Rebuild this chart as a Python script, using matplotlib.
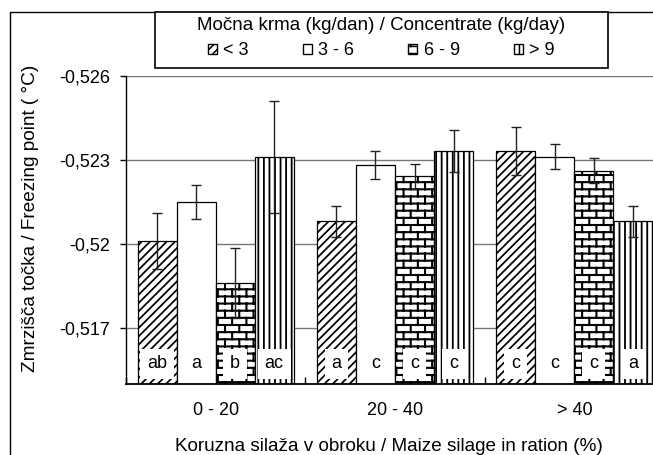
import warnings
import numpy as np
import matplotlib
matplotlib.use('Agg')
import matplotlib.pyplot as plt
import matplotlib.hatch as mhatch
import matplotlib.transforms as mtrans
from matplotlib.path import Path
from matplotlib.patches import Rectangle, Patch

warnings.filterwarnings('ignore')

# podatki
groups = ['0 - 20', '20 - 40', '> 40']
series = ['< 3', '3 - 6', '6 - 9', '> 9']
vals_lt3 = [-0.5201, -0.5208, -0.5233]
vals_3_6 = [-0.5215, -0.5228, -0.5231]
vals_6_9 = [-0.5186, -0.5224, -0.5226]
vals_gt9 = [-0.5231, -0.5233, -0.5208]
err_lt3 = [0.0010, 0.00055, 0.00085]
err_3_6 = [0.0006, 0.0005, 0.00045]
err_6_9 = [0.00125, 0.00045, 0.00045]
err_gt9 = [0.0020, 0.00075, 0.00055]
letters_lt3 = ['ab', 'a', 'c']
letters_3_6 = ['a', 'c', 'c']
letters_6_9 = ['b', 'c', 'c']
letters_gt9 = ['ac', 'c', 'a']
yticks = [-0.526, -0.523, -0.52, -0.517]
ytick_labels = ['-0,526', '-0,523', '-0,52', '-0,517']
base = -0.515


# vzorec opeke (brick) za 6 - 9
class BrickHatch(mhatch.HatchPatternBase):
    def __init__(self, hatch, density):
        self.segs = []
        if 'b' in hatch:
            nr, nc = 14, 7
            h, w = 1.0 / nr, 1.0 / nc
            for r in range(nr):
                y = (r + 0.5) * h
                self.segs.append(((0, y), (1, y)))
                for c in range(nc):
                    x = (c + 0.25 + 0.5 * (r % 2)) * w
                    top = y + h
                    if top <= 1:
                        self.segs.append(((x, y), (x, top)))
                    else:
                        self.segs.append(((x, y), (x, 1)))
                        self.segs.append(((x, 0), (x, top - 1)))
        self.num_vertices = 2 * len(self.segs)

    def set_vertices_and_codes(self, vertices, codes):
        vertices[:] = np.array(self.segs, dtype=float).reshape(-1, 2)
        codes[0::2] = Path.MOVETO
        codes[1::2] = Path.LINETO


mhatch._hatch_types.append(BrickHatch)

plt.rcParams['font.family'] = ['Liberation Sans', 'DejaVu Sans']
plt.rcParams['hatch.linewidth'] = 1.1

fig = plt.figure(figsize=(6.53, 4.55), dpi=100)
ax = fig.add_axes([126 / 653, 1 - 384 / 455, 538 / 653, 308.5 / 455])

vals = [vals_lt3, vals_3_6, vals_6_9, vals_gt9]
errs = [err_lt3, err_3_6, err_6_9, err_gt9]
letters = [letters_lt3, letters_3_6, letters_6_9, letters_gt9]
hatches = ['////', None, 'b', '|||']
hatch_lw = [1.25, 1.0, 1.5, 1.3]

x = np.arange(len(groups))
w = 0.2175
trans = mtrans.blended_transform_factory(ax.transData, ax.transAxes)
for i in range(4):
    xi = x + (i - 1.5) * w
    v = np.array(vals[i])
    bars = ax.bar(xi, v - base, bottom=base, width=w, color='white',
                  edgecolor='black', linewidth=0.9, hatch=hatches[i], zorder=2)
    for b in bars:
        if hasattr(b, 'set_hatch_linewidth'):
            b.set_hatch_linewidth(hatch_lw[i])
    ax.errorbar(xi, v, yerr=errs[i], fmt='none', ecolor='#222222',
                elinewidth=1, capsize=3.6, capthick=1, zorder=4)
    for xx, t in zip(xi, letters[i]):
        ax.text(xx, 0.065, t, transform=trans, ha='center', va='center',
                fontsize=13, zorder=5,
                bbox=dict(boxstyle='square,pad=0.38', fc='white', ec='none'))

ax.set_ylim(base, -0.526)
ax.set_xlim(-0.5, 2.5)
ax.set_yticks(yticks)
ax.set_yticklabels(ytick_labels)
ax.set_xticks(x)
ax.set_xticklabels(groups)
ax.set_xticks([-0.5, 0.5, 1.5, 2.5], minor=True)
ax.tick_params(axis='x', which='major', length=0, pad=13, labelsize=13)
ax.tick_params(axis='x', which='minor', direction='in', length=5, width=1)
ax.tick_params(axis='y', direction='out', length=4.3, width=1, pad=7, labelsize=13)
ax.yaxis.grid(True, color='#777777', linewidth=1)
ax.set_axisbelow(True)
for s in ['top', 'right']:
    ax.spines[s].set_visible(False)
ax.spines['left'].set_linewidth(1)
ax.spines['bottom'].set_linewidth(1.3)

ax.set_ylabel('Zmrzišča točka / Freezing point ( °C)', fontsize=13.7, va='center')
ax.yaxis.set_label_coords(-0.178, 0.538)
ax.set_xlabel('Koruzna silaža v obroku / Maize silage in ration (%)', fontsize=13.6, va='center')
ax.xaxis.set_label_coords(0.489, -0.201)

# okvir slike in legende
fig.patches.append(Rectangle((10 / 653, -0.1), 1.2, 1 - 12 / 455 + 0.1,
                             transform=fig.transFigure, fill=False,
                             edgecolor='black', linewidth=1))
fig.patches.append(Rectangle((155 / 653, 1 - 68 / 455), 453 / 653, 56 / 455,
                             transform=fig.transFigure, facecolor='white',
                             edgecolor='black', linewidth=1.2, zorder=3))

handles = [Patch(facecolor='white', edgecolor='black', hatch=h) for h in hatches]
leg = fig.legend(handles, series, ncol=4, loc='center',
                 bbox_to_anchor=((155 + 608) / 2 / 653, 1 - 38 / 455),
                 frameon=False, title='Močna krma (kg/dan) / Concentrate (kg/day)',
                 title_fontsize=13.5, fontsize=13, handlelength=0.5, handleheight=0.5,
                 handletextpad=0.35, columnspacing=3.0, borderpad=0, labelspacing=0.45)
leg.set_zorder(4)

fig.savefig('out.png', dpi=100)
